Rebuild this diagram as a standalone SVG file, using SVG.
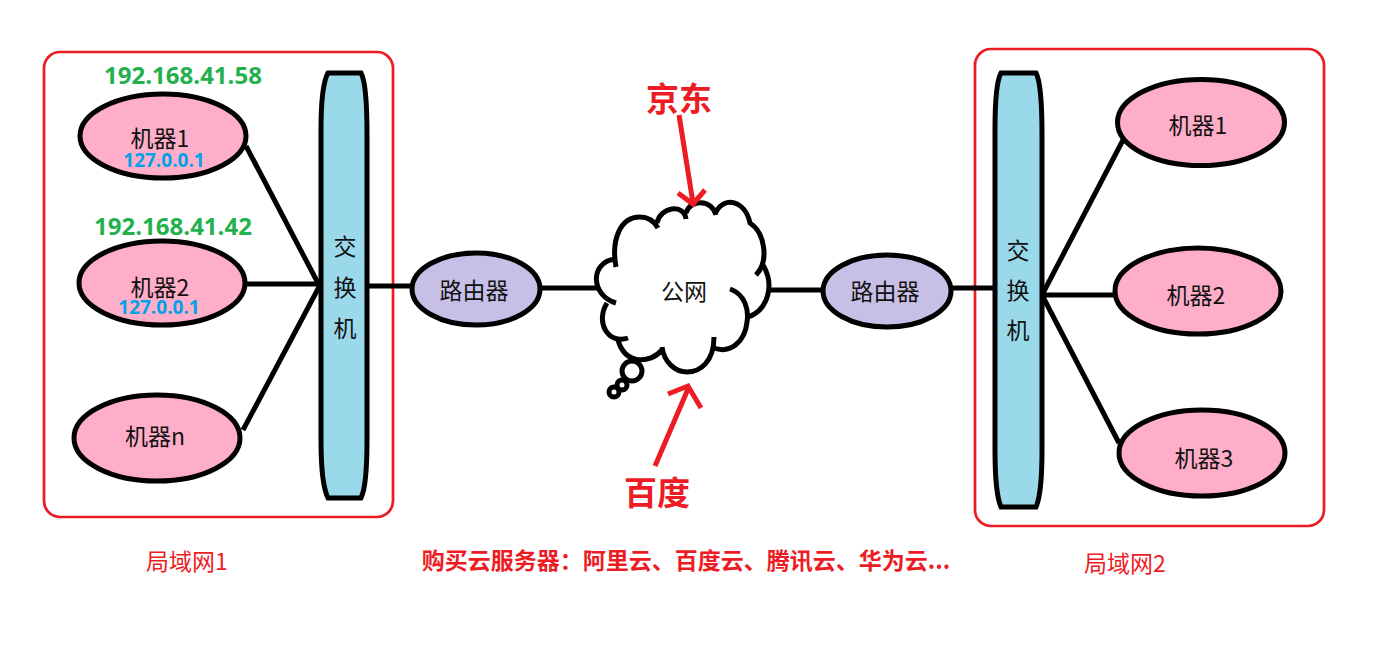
<svg xmlns="http://www.w3.org/2000/svg" width="1376" height="669" viewBox="0 0 1376 669">
<style>
text{font-family:"Noto Sans CJK SC","Liberation Sans",sans-serif;text-anchor:middle}
.ln{fill:none;stroke:#000;stroke-width:5}
.pc{fill:#ffaec9;stroke:#000;stroke-width:5}
.rt{fill:#c8bfe7;stroke:#000;stroke-width:5}
.sw{fill:#99d9ea;stroke:#000;stroke-width:5}
.lan{fill:none;stroke:#ed1c24;stroke-width:2.7}
.t{font-size:23px;fill:#111}
.ip{font-family:"Open Sans","Liberation Sans",sans-serif;font-weight:700;font-size:24px;fill:#22b14c}
.lo{font-family:"Open Sans","Liberation Sans",sans-serif;font-weight:700;font-size:19px;fill:#00a2e8}
.red{fill:#ed1c24;font-weight:700}
.arw{fill:none;stroke:#ed1c24;stroke-width:5}
</style>
<rect id="lan1-box" class="lan" x="44" y="52" width="349" height="465" rx="16"/>
<rect id="lan2-box" class="lan" x="975" y="49" width="349" height="477" rx="16"/>
<g id="connectors">
<path class="ln" d="M246 146L319 285M246 284H321M243 430L319 287M367 286H412M541 288H600M768 290H824M952 288H996M1042 295L1123 140M1042 295H1115M1042 295L1119 443"/>
</g>
<g id="switch1"><path class="sw" d="M328 73H361C365 80 367 105 367 135V440C367 470 365 490 361 498H328C324 490 321 470 321 440V130C321 100 324 80 328 73Z"/>
<text class="t" x="345" y="255">交</text><text class="t" x="345" y="296">换</text><text class="t" x="345" y="337">机</text></g>
<g id="switch2"><path class="sw" d="M1001 73H1036C1040 80 1042 105 1042 135V450C1042 480 1040 498 1036 507H1001C997 498 995 480 995 450V130C995 100 997 80 1001 73Z"/>
<text class="t" x="1018" y="259">交</text><text class="t" x="1018" y="299">换</text><text class="t" x="1018" y="339">机</text></g>
<g id="pc1"><ellipse class="pc" cx="163" cy="136" rx="83" ry="42"/><text class="t" x="160" y="147">机器1</text><text class="lo" x="164" y="167">127.0.0.1</text></g>
<g id="pc2"><ellipse class="pc" cx="162" cy="283" rx="83" ry="42"/><text class="t" x="160" y="296">机器2</text><text class="lo" x="159" y="314">127.0.0.1</text></g>
<g id="pcn"><ellipse class="pc" cx="157" cy="438" rx="83" ry="43"/><text class="t" x="155" y="445">机器n</text></g>
<text class="ip" x="183" y="84">192.168.41.58</text>
<text class="ip" x="173" y="235">192.168.41.42</text>
<g id="router1"><ellipse class="rt" cx="476" cy="289" rx="64" ry="36"/><text class="t" x="474" y="299">路由器</text></g>
<g id="router2"><ellipse class="rt" cx="887" cy="291" rx="64" ry="36"/><text class="t" x="885" y="300">路由器</text></g>
<g id="pcr1"><ellipse class="pc" cx="1201" cy="122.500" rx="83.500" ry="43"/><text class="t" x="1198" y="134">机器1</text></g>
<g id="pcr2"><ellipse class="pc" cx="1198" cy="291" rx="83" ry="43"/><text class="t" x="1196" y="304">机器2</text></g>
<g id="pcr3"><ellipse class="pc" cx="1202" cy="453" rx="83" ry="43"/><text class="t" x="1204" y="467">机器3</text></g>
<g id="cloud">
<path class="ln" d="M616 267C611 240 620 217 640 217C648 217 654 221 658 228M657 223C660 207 684 203 686 219M686 213C690 199 712 199 716 215M716 212C724 196 745 200 750 223C764 232 770 260 756 275M763 265C775 285 768 310 748 317M730 289C745 294 749 310 747 322C745 342 730 354 714 348M714 337C714 362 700 372 687 372C675 372 664 362 662 347M662 350C650 364 625 365 618 340M628 338C608 345 595 322 607 303M616 303C590 295 590 262 615 259"/>
<circle class="ln" cx="632" cy="371" r="10"/><circle class="ln" cx="622" cy="385" r="5"/><circle class="ln" cx="614" cy="392" r="5"/>
<text x="684" y="300" style="font-size:23px;fill:#111">公网</text>
</g>
<g id="arrows">
<path class="arw" d="M679 115L693 203M678 193L693 204L705 190M655 466L688 389M668 394L688 386L701 408"/>
</g>
<text class="red" x="679" y="111" font-size="33">京东</text>
<text class="red" x="657" y="505" font-size="33">百度</text>
<text class="t" x="187" y="570" style="fill:#ed1c24">局域网1</text>
<text class="t" x="1125" y="572" style="fill:#ed1c24">局域网2</text>
<text class="red" x="686" y="569" font-size="23">购买云服务器：阿里云、百度云、腾讯云、华为云...</text>
</svg>
